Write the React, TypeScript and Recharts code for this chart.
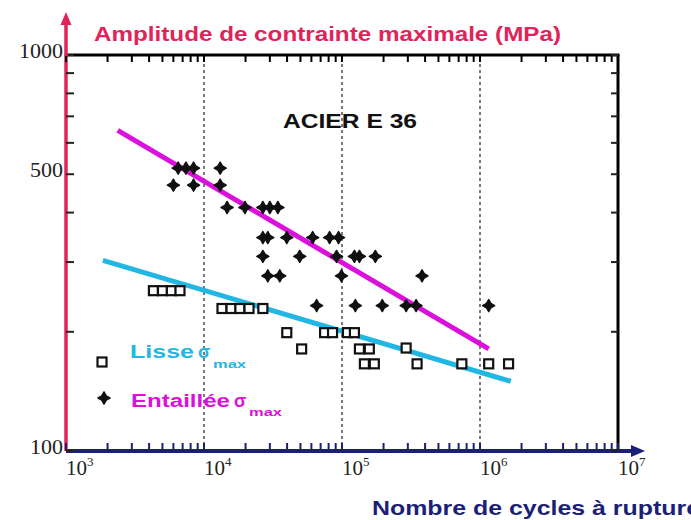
import React from 'react'
import { ScatterChart, Scatter, XAxis, YAxis, ReferenceLine } from 'recharts'

// décades et graduations
const decades = [1e3, 1e4, 1e5, 1e6]
const multipliers = [1, 2, 3, 4, 5, 6, 7, 8, 9]
const xMajor = [1e3, 1e4, 1e5, 1e6, 1e7]
const xExponents = ['3', '4', '5', '6', '7']
const yTicks = [100, 200, 300, 400, 500, 600, 700, 800, 900, 1000]
const yLabels = [100, 500, 1000]
const gridX = [1e4, 1e5, 1e6]

const xTicks = [...decades.flatMap((d) => multipliers.map((m) => d * m)), 1e7]

// Entaillée (losanges)
const entailleN = [
  6000, 8400, 6500, 7400, 8400, 13100, 13100, 14700, 19800, 26700, 30000, 34300,
  26700, 29000, 39800, 61300, 81300, 94400, 26700, 49400, 91300, 123000, 133700,
  174400, 29000, 35400, 99100, 380000, 65500, 125000, 195800, 291600, 344300, 1156000,
]
const entailleS = [
  469, 469, 518, 518, 518, 518, 469, 412, 412, 412, 412, 412,
  346, 346, 346, 346, 346, 346, 310, 310, 310, 310, 310,
  310, 277, 277, 277, 277, 233, 233, 233, 233, 233, 233,
]

// Lisse (carrés)
const lisseN = [
  4300, 5000, 5800, 6700, 13500, 15700, 18200, 21200, 26700, 39800, 51000, 74800,
  85400, 109500, 123000, 133700, 157800, 145300, 171500, 291600, 350000, 738800,
  1156000, 1611000,
]
const lisseS = [
  254, 254, 254, 254, 229, 229, 229, 229, 229, 199, 181, 199,
  199, 199, 199, 181, 181, 166, 166, 182, 166, 166,
  166, 166,
]

// droites de tendance
const entailleFitN = [2370, 1156000]
const entailleFitS = [645, 181]
const lisseFitN = [1850, 1670000]
const lisseFitS = [303, 150]

const zip = (xs: number[], ys: number[]) => xs.map((x, i) => ({ n: x, s: ys[i] }))

const CRIMSON = '#e0245a'
const NAVY = '#1c1f78'
const MAGENTA = '#dc10dc'
const CYAN = '#22b6e2'
const SERIF = '"Liberation Serif", "Times New Roman", serif'
const SANS = '"Liberation Sans", Arial, sans-serif'

// zone de tracé
const LEFT = 66
const TOP = 55
const PLOT_W = 552
const PLOT_H = 396
const RIGHT = LEFT + PLOT_W
const BOTTOM = TOP + PLOT_H

// position des graduations du cadre (décor seulement)
const px = (v: number) => LEFT + ((Math.log10(v) - 3) / 4) * PLOT_W
const py = (v: number) => BOTTOM - (Math.log10(v) - 2) * PLOT_H

const Diamond = ({ cx, cy }: any) => (
  <path
    d={`M${cx},${cy - 6} L${cx + 2.2},${cy - 2.2} L${cx + 6},${cy} L${cx + 2.2},${cy + 2.2} L${cx},${cy + 6} L${cx - 2.2},${cy + 2.2} L${cx - 6},${cy} L${cx - 2.2},${cy - 2.2} Z`}
    fill="#111"
    stroke="#111"
    strokeWidth={1.5}
    strokeLinejoin="round"
  />
)

const Square = ({ cx, cy }: any) => (
  <rect x={cx - 4.5} y={cy - 4.5} width={9} height={9} fill="#fff" stroke="#111" strokeWidth={2.2} />
)

const Empty = () => <g />

const BottomTick = ({ x, y, payload }: any) => {
  const i = xMajor.indexOf(payload.value)
  if (i < 0) return <g />
  return (
    <text x={x} y={y + 24} fontFamily={SERIF} fontSize={21} fill="#222">
      10
      <tspan fontSize={13} dy={-9}>{xExponents[i]}</tspan>
    </text>
  )
}

const LeftTick = ({ x, y, payload }: any) => {
  const v = payload.value
  if (!yLabels.includes(v)) return <g />
  return (
    <text x={x - 3} y={y + 3} textAnchor="end" fontFamily={SERIF} fontSize={22} fill="#222">
      {v}
    </text>
  )
}

export default function App() {
  return (
    <div style={{ position: 'absolute', left: 0, top: 0, width: 691, height: 520, background: '#fff' }}>
      <ScatterChart width={691} height={520} margin={{ top: TOP, right: 691 - RIGHT, bottom: 0, left: 0 }}>
        {gridX.map((g) => (
          <ReferenceLine
            key={g}
            x={g}
            xAxisId="bottom"
            yAxisId="left"
            stroke="#333"
            strokeWidth={1.3}
            strokeDasharray="3 3"
          />
        ))}
        <XAxis
          xAxisId="bottom"
          dataKey="n"
          type="number"
          scale="log"
          domain={[1e3, 1e7]}
          allowDataOverflow
          ticks={xTicks}
          interval={0}
          tickSize={0}
          tickMargin={0}
          tickLine={false}
          tick={<BottomTick />}
          height={520 - BOTTOM}
          axisLine={{ stroke: NAVY, strokeWidth: 4 }}
        />
        <YAxis
          yAxisId="left"
          dataKey="s"
          type="number"
          scale="log"
          domain={[100, 1000]}
          allowDataOverflow
          ticks={yTicks}
          interval={0}
          tickSize={0}
          tickMargin={0}
          tickLine={false}
          tick={<LeftTick />}
          width={LEFT}
          axisLine={{ stroke: CRIMSON, strokeWidth: 3.5 }}
        />
        <Scatter
          data={zip(lisseFitN, lisseFitS)}
          xAxisId="bottom"
          yAxisId="left"
          line={{ stroke: CYAN, strokeWidth: 5 }}
          shape={<Empty />}
          isAnimationActive={false}
        />
        <Scatter
          data={zip(entailleFitN, entailleFitS)}
          xAxisId="bottom"
          yAxisId="left"
          line={{ stroke: MAGENTA, strokeWidth: 5 }}
          shape={<Empty />}
          isAnimationActive={false}
        />
        <Scatter
          data={zip(lisseN, lisseS)}
          xAxisId="bottom"
          yAxisId="left"
          shape={<Square />}
          isAnimationActive={false}
        />
        <Scatter
          data={zip(entailleN, entailleS)}
          xAxisId="bottom"
          yAxisId="left"
          shape={<Diamond />}
          isAnimationActive={false}
        />
      </ScatterChart>
      <svg
        width={691}
        height={520}
        style={{ position: 'absolute', left: 0, top: 0, pointerEvents: 'none' }}
      >
        {/* cadre haut / droit */}
        <line x1={LEFT} x2={RIGHT + 1.5} y1={TOP} y2={TOP} stroke="#000" strokeWidth={3} />
        <line x1={RIGHT} x2={RIGHT} y1={TOP} y2={BOTTOM} stroke="#000" strokeWidth={3} />
        {/* graduations */}
        {xTicks.map((t) => (
          <g key={`x${t}`}>
            <line x1={px(t)} x2={px(t)} y1={TOP} y2={TOP + 7} stroke="#000" strokeWidth={2} />
            <line x1={px(t)} x2={px(t)} y1={BOTTOM} y2={BOTTOM - 8} stroke={NAVY} strokeWidth={2} />
          </g>
        ))}
        {yTicks.map((t) => (
          <g key={`y${t}`}>
            <line x1={LEFT} x2={LEFT + 8} y1={py(t)} y2={py(t)} stroke="#222" strokeWidth={2} />
            <line x1={RIGHT} x2={RIGHT - 7} y1={py(t)} y2={py(t)} stroke="#222" strokeWidth={2} />
          </g>
        ))}
        {/* flèches des axes */}
        <line x1={LEFT} x2={LEFT} y1={TOP + 1} y2={22} stroke={CRIMSON} strokeWidth={3.5} />
        <path d={`M${LEFT},12 L${LEFT - 5.5},25 L${LEFT + 5.5},25 Z`} fill={CRIMSON} />
        <line x1={RIGHT - 1} x2={634} y1={BOTTOM} y2={BOTTOM} stroke={NAVY} strokeWidth={4} />
        <path d={`M645,${BOTTOM} L631,${BOTTOM - 6} L631,${BOTTOM + 6} Z`} fill={NAVY} />

        <text x={94} y={41} fontFamily={SANS} fontWeight="bold" fontSize={20} fill={CRIMSON} textLength={467} lengthAdjust="spacingAndGlyphs">
          Amplitude de contrainte maximale (MPa)
        </text>
        <text x={283} y={128} fontFamily={SANS} fontWeight="bold" fontSize={21} fill="#111" textLength={134} lengthAdjust="spacingAndGlyphs">
          ACIER E 36
        </text>
        <text x={372} y={515} fontFamily={SANS} fontWeight="bold" fontSize={21} fill={NAVY} textLength={328} lengthAdjust="spacingAndGlyphs">
          Nombre de cycles à rupture
        </text>

        {/* légende */}
        <Square cx={102} cy={362} />
        <Diamond cx={104} cy={398} />
        <text x={130} y={358} fontFamily={SANS} fontWeight="bold" fontSize={18} fill={CYAN} textLength={64} lengthAdjust="spacingAndGlyphs">
          Lisse
        </text>
        <text x={198} y={358} fontFamily={SANS} fontWeight="bold" fontSize={18} fill={CYAN}>σ</text>
        <text x={213} y={368} fontFamily={SANS} fontWeight="bold" fontSize={11} fill={CYAN} textLength={33} lengthAdjust="spacingAndGlyphs">
          max
        </text>
        <text x={131} y={407} fontFamily={SANS} fontWeight="bold" fontSize={18} fill={MAGENTA} textLength={99} lengthAdjust="spacingAndGlyphs">
          Entaillée
        </text>
        <text x={234} y={407} fontFamily={SANS} fontWeight="bold" fontSize={18} fill={MAGENTA}>σ</text>
        <text x={249} y={416} fontFamily={SANS} fontWeight="bold" fontSize={11} fill={MAGENTA} textLength={33} lengthAdjust="spacingAndGlyphs">
          max
        </text>
      </svg>
    </div>
  )
}
